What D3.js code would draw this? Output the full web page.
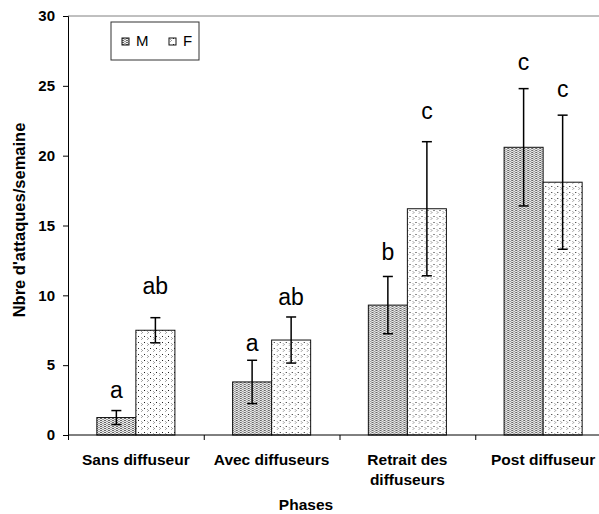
<!DOCTYPE html>
<html>
<head>
<meta charset="utf-8">
<script src="https://cdn.jsdelivr.net/npm/d3@7"></script>
<style>
  body { margin: 0; background: #fff; }
  svg { font-family: "Liberation Sans", Arial, sans-serif; }
</style>
</head>
<body>
<svg id="chart" width="599" height="514"></svg>
<script>
// data
const phases = ["Sans diffuseur", "Avec diffuseurs", "Retrait des diffuseurs", "Post diffuseur"]
const phaseLines = [["Sans diffuseur"], ["Avec diffuseurs"], ["Retrait des", "diffuseurs"], ["Post diffuseur"]]
const sexes = ["M", "F"]
const meanM = [1.25, 3.8, 9.3, 20.6]
const meanF = [7.5, 6.8, 16.2, 18.1]
const errM = [0.5, 1.55, 2.05, 4.2]
const errF = [0.9, 1.65, 4.8, 4.8]
const letterM = ["a", "a", "b", "c"]
const letterF = ["ab", "ab", "c", "c"]
// height (in data units) of the letter baselines
const letterYM = [2.65, 6.0, 12.5, 26.1]
const letterYF = [10.1, 9.3, 22.6, 24.2]
const yTicks = [0, 5, 10, 15, 20, 25, 30]

const rows = phases.map((p, i) => ({
    phase: p,
    M: { value: meanM[i], err: errM[i], letter: letterM[i], ly: letterYM[i] },
    F: { value: meanF[i], err: errF[i], letter: letterF[i], ly: letterYF[i] }
}))

const svg = d3.select("#chart")
const margin = { left: 68, top: 16, bottom: 79 }
const plotRight = 611
const height = 514 - margin.top - margin.bottom

// patterns
const defs = svg.append("defs")
const pM = defs.append("pattern").attr("id", "patM")
    .attr("patternUnits", "userSpaceOnUse").attr("width", 4).attr("height", 2)
pM.append("rect").attr("width", 4).attr("height", 2).attr("fill", "#ececec")
pM.append("rect").attr("x", 0).attr("y", 0).attr("width", 2).attr("height", 1).attr("fill", "#666")
pM.append("rect").attr("x", 2).attr("y", 1).attr("width", 2).attr("height", 1).attr("fill", "#a4a4a4")

const pF = defs.append("pattern").attr("id", "patF")
    .attr("patternUnits", "userSpaceOnUse").attr("width", 6).attr("height", 6)
pF.append("rect").attr("width", 6).attr("height", 6).attr("fill", "#fff")
pF.append("rect").attr("x", 1).attr("y", 1).attr("width", 1).attr("height", 1).attr("fill", "#aaa")
pF.append("rect").attr("x", 2).attr("y", 2).attr("width", 1).attr("height", 1).attr("fill", "#999")
pF.append("rect").attr("x", 1).attr("y", 3).attr("width", 1).attr("height", 1).attr("fill", "#aaa")
pF.append("rect").attr("x", 4).attr("y", 0).attr("width", 1).attr("height", 1).attr("fill", "#222")

const fill = d3.scaleOrdinal().domain(sexes).range(["url(#patM)", "url(#patF)"])

// scales
const x0 = d3.scaleBand()
    .domain(phases)
    .range([margin.left, plotRight])
    .padding(0)

const groupW = x0.bandwidth() * 0.575
const x1 = d3.scaleBand()
    .domain(sexes)
    .range([(x0.bandwidth() - groupW) / 2, (x0.bandwidth() + groupW) / 2])
    .padding(0)

const y = d3.scaleLinear()
    .domain([0, 30])
    .range([margin.top + height, margin.top])

// top border of the plot area
svg.append("line")
    .attr("x1", margin.left).attr("x2", plotRight)
    .attr("y1", y(30)).attr("y2", y(30))
    .attr("stroke", "#808080").attr("stroke-width", 1)

// bars
const groups = svg.append("g").selectAll("g")
    .data(rows)
    .enter().append("g")
    .attr("transform", d => `translate(${x0(d.phase)},0)`)

const items = d => sexes.map(key => ({ key, ...d[key] }))

groups.selectAll("rect")
    .data(items)
    .enter().append("rect")
    .attr("x", d => x1(d.key))
    .attr("y", d => y(d.value))
    .attr("width", x1.bandwidth())
    .attr("height", d => y(0) - y(d.value))
    .attr("fill", d => fill(d.key))
    .attr("stroke", "#111")
    .attr("stroke-width", 1)

// error bars
const eb = groups.selectAll(".err")
    .data(items)
    .enter().append("g")
    .attr("class", "err")
    .attr("transform", d => `translate(${x1(d.key) + x1.bandwidth() / 2},0)`)

eb.append("line")
    .attr("y1", d => y(d.value + d.err)).attr("y2", d => y(d.value - d.err))
    .attr("stroke", "#000").attr("stroke-width", 1.5)
eb.append("line")
    .attr("x1", -5).attr("x2", 5)
    .attr("y1", d => y(d.value + d.err)).attr("y2", d => y(d.value + d.err))
    .attr("stroke", "#000").attr("stroke-width", 1.5)
eb.append("line")
    .attr("x1", -5).attr("x2", 5)
    .attr("y1", d => y(d.value - d.err)).attr("y2", d => y(d.value - d.err))
    .attr("stroke", "#000").attr("stroke-width", 1.5)

// significance letters
groups.selectAll(".letter")
    .data(items)
    .enter().append("text")
    .attr("class", "letter")
    .attr("x", d => x1(d.key) + x1.bandwidth() / 2)
    .attr("y", d => y(d.ly))
    .attr("text-anchor", "middle")
    .style("font-size", "23px")
    .text(d => d.letter)

// y axis
const yAxis = d3.axisLeft(y).tickValues(yTicks).tickSize(5).tickPadding(8)
const gy = svg.append("g")
    .attr("transform", `translate(${margin.left},0)`)
    .call(yAxis)
gy.select(".domain").attr("stroke", "#000")
gy.selectAll(".tick text")
    .style("font-size", "15px").style("font-weight", "bold")
    .style("font-family", "Liberation Sans, Arial, sans-serif").attr("fill", "#000")

// x axis
svg.append("line")
    .attr("x1", margin.left).attr("x2", plotRight)
    .attr("y1", y(0)).attr("y2", y(0))
    .attr("stroke", "#000")
svg.append("g").selectAll("line")
    .data(phases)
    .enter().append("line")
    .attr("x1", d => x0(d) + 0.5).attr("x2", d => x0(d) + 0.5)
    .attr("y1", y(0)).attr("y2", y(0) + 5)
    .attr("stroke", "#000")

const xl = svg.append("g").selectAll("text")
    .data(phases)
    .enter().append("text")
    .attr("x", d => x0(d) + x0.bandwidth() / 2)
    .attr("y", y(0) + 30)
    .attr("text-anchor", "middle")
    .style("font-size", "15.5px").style("font-weight", "bold")
xl.selectAll("tspan")
    .data((d, i) => phaseLines[i])
    .enter().append("tspan")
    .attr("x", function () { return d3.select(this.parentNode).attr("x") })
    .attr("dy", (d, i) => i === 0 ? 0 : 20)
    .text(d => d)

// axis titles
svg.append("text")
    .attr("x", 306).attr("y", 510)
    .attr("text-anchor", "middle")
    .style("font-size", "15.5px").style("font-weight", "bold")
    .text("Phases")

svg.append("text")
    .attr("transform", `translate(25,220) rotate(-90)`)
    .attr("text-anchor", "middle")
    .style("font-size", "16.5px").style("font-weight", "bold")
    .text("Nbre d'attaques/semaine")

// legend
const legend = svg.append("g").attr("transform", "translate(111,22)")
legend.append("rect")
    .attr("width", 88).attr("height", 38)
    .attr("fill", "#fff").attr("stroke", "#333")
const li = legend.selectAll(".li")
    .data(sexes)
    .enter().append("g")
    .attr("transform", (d, i) => `translate(${11 + i * 47},16)`)
li.append("rect")
    .attr("width", 7).attr("height", 7)
    .attr("fill", d => fill(d)).attr("stroke", "#111")
li.append("text")
    .attr("x", 14).attr("y", 8)
    .style("font-size", "15px")
    .text(d => d)
</script>
</body>
</html>
